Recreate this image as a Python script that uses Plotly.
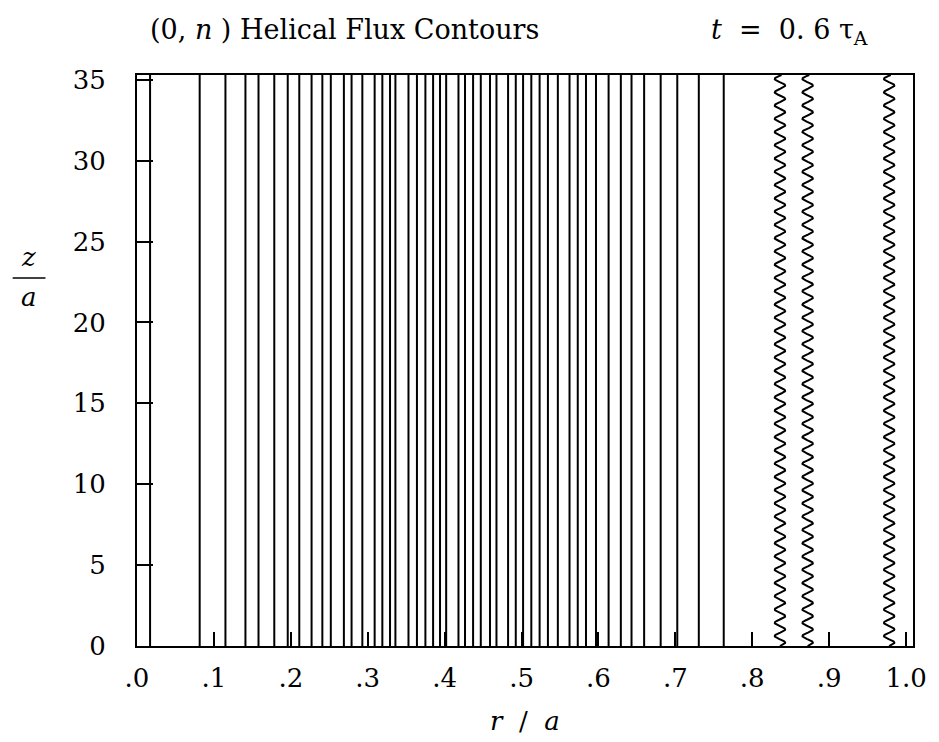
import numpy as np
import plotly.graph_objects as go

# Radial positions (r/a) of the straight (unperturbed) helical flux contours
r_straight = [0.017, 0.0815, 0.115, 0.141, 0.158, 0.1785, 0.196, 0.211, 0.227, 0.241,
              0.252, 0.269, 0.279, 0.293, 0.309, 0.319, 0.329, 0.336, 0.353, 0.364,
              0.375, 0.385, 0.394, 0.402, 0.418, 0.4265, 0.437, 0.447, 0.459, 0.4674,
              0.4825, 0.4925, 0.502, 0.5127, 0.5235, 0.5343, 0.5472, 0.5624, 0.5731,
              0.5838, 0.5968, 0.6132, 0.6291, 0.643, 0.6594, 0.6809, 0.7025, 0.7305,
              0.7629]

# Radial positions of the rippled contours near the wall
r_wavy = [0.836, 0.872, 0.978]
ripple_amp = 0.0068       # half-width of the ripple in r/a
ripple_wavelength = 0.82  # axial period of the ripple in z/a

z_top = 35.3
x_tickvals = [0.0, 0.1, 0.2, 0.3, 0.4, 0.5, 0.6, 0.7, 0.8, 0.9, 1.0]
x_ticktext = [".0", ".1", ".2", ".3", ".4", ".5", ".6", ".7", ".8", ".9", "1.0"]
y_tickvals = [0, 5, 10, 15, 20, 25, 30, 35]

FONT = "DejaVu Serif"
FS = 26

# straight contours: one trace with gaps between segments
xs, ys = [], []
for r in r_straight:
    xs += [r, r, None]
    ys += [0, z_top, None]

# rippled contours
zw = np.linspace(0, z_top, 2000)
wx, wy = [], []
for r0 in r_wavy:
    wx += list(r0 + ripple_amp * np.sin(2 * np.pi * zw / ripple_wavelength)) + [None]
    wy += list(zw) + [None]

fig = go.Figure()
fig.add_trace(go.Scatter(x=xs, y=ys, mode="lines",
                         line=dict(color="black", width=2), hoverinfo="skip"))
fig.add_trace(go.Scatter(x=wx, y=wy, mode="lines",
                         line=dict(color="black", width=2), hoverinfo="skip"))

W, H = 939, 742
ml, mr, mt, mb = 137, 22, 75, 96
pw, ph = W - ml - mr, H - mt - mb


def px_x(px):
    return (px - ml) / pw


def px_y(py):
    return (H - mb - py) / ph


fig.update_layout(
    width=W, height=H, autosize=False,
    margin=dict(l=ml, r=mr, t=mt, b=mb),
    paper_bgcolor="white", plot_bgcolor="white",
    showlegend=False,
    font=dict(family=FONT, size=FS, color="black"),
    xaxis=dict(range=[0, 1.009], tickvals=x_tickvals, ticktext=x_ticktext,
               ticks="inside", ticklen=14, tickwidth=1.5, tickcolor="black",
               showline=True, linewidth=2, linecolor="black", mirror=True,
               showgrid=False, zeroline=False, ticklabelstandoff=8,
               ticklabelshift=0,
               tickfont=dict(family=FONT, size=FS, color="black")),
    yaxis=dict(range=[0, z_top], tickvals=y_tickvals,
               ticks="inside", ticklen=16, tickwidth=1.5, tickcolor="black",
               showline=True, linewidth=2, linecolor="black", mirror=True,
               showgrid=False, zeroline=False, ticklabelstandoff=24,
               tickfont=dict(family=FONT, size=FS, color="black")),
)

annotations = [
    dict(text="(0, <i>n</i> ) Helical Flux Contours", x=px_x(148), y=px_y(29),
         xanchor="left", yanchor="middle", size=27),
    dict(text="<i>t</i>  =  0. 6 τ<sub>A</sub>", x=px_x(712), y=px_y(31),
         xanchor="left", yanchor="middle", size=27),
    dict(text="<i>r</i>  /  <i>a</i>", x=px_x(527), y=px_y(721),
         xanchor="center", yanchor="middle", size=FS),
    dict(text="<i>z</i>", x=px_x(28), y=px_y(257), xanchor="center",
         yanchor="middle", size=FS),
    dict(text="<i>a</i>", x=px_x(28), y=px_y(297), xanchor="center",
         yanchor="middle", size=FS),
]
for a in annotations:
    s = a.pop("size")
    a.update(xref="paper", yref="paper", showarrow=False,
             font=dict(family=FONT, size=s, color="black"))
fig.update_layout(annotations=annotations)

# fraction bar of the z/a axis label
fig.add_shape(type="line", xref="paper", yref="paper",
              x0=px_x(12), x1=px_x(45), y0=px_y(278), y1=px_y(278),
              line=dict(color="black", width=1.5))

fig.write_html("out.html")
